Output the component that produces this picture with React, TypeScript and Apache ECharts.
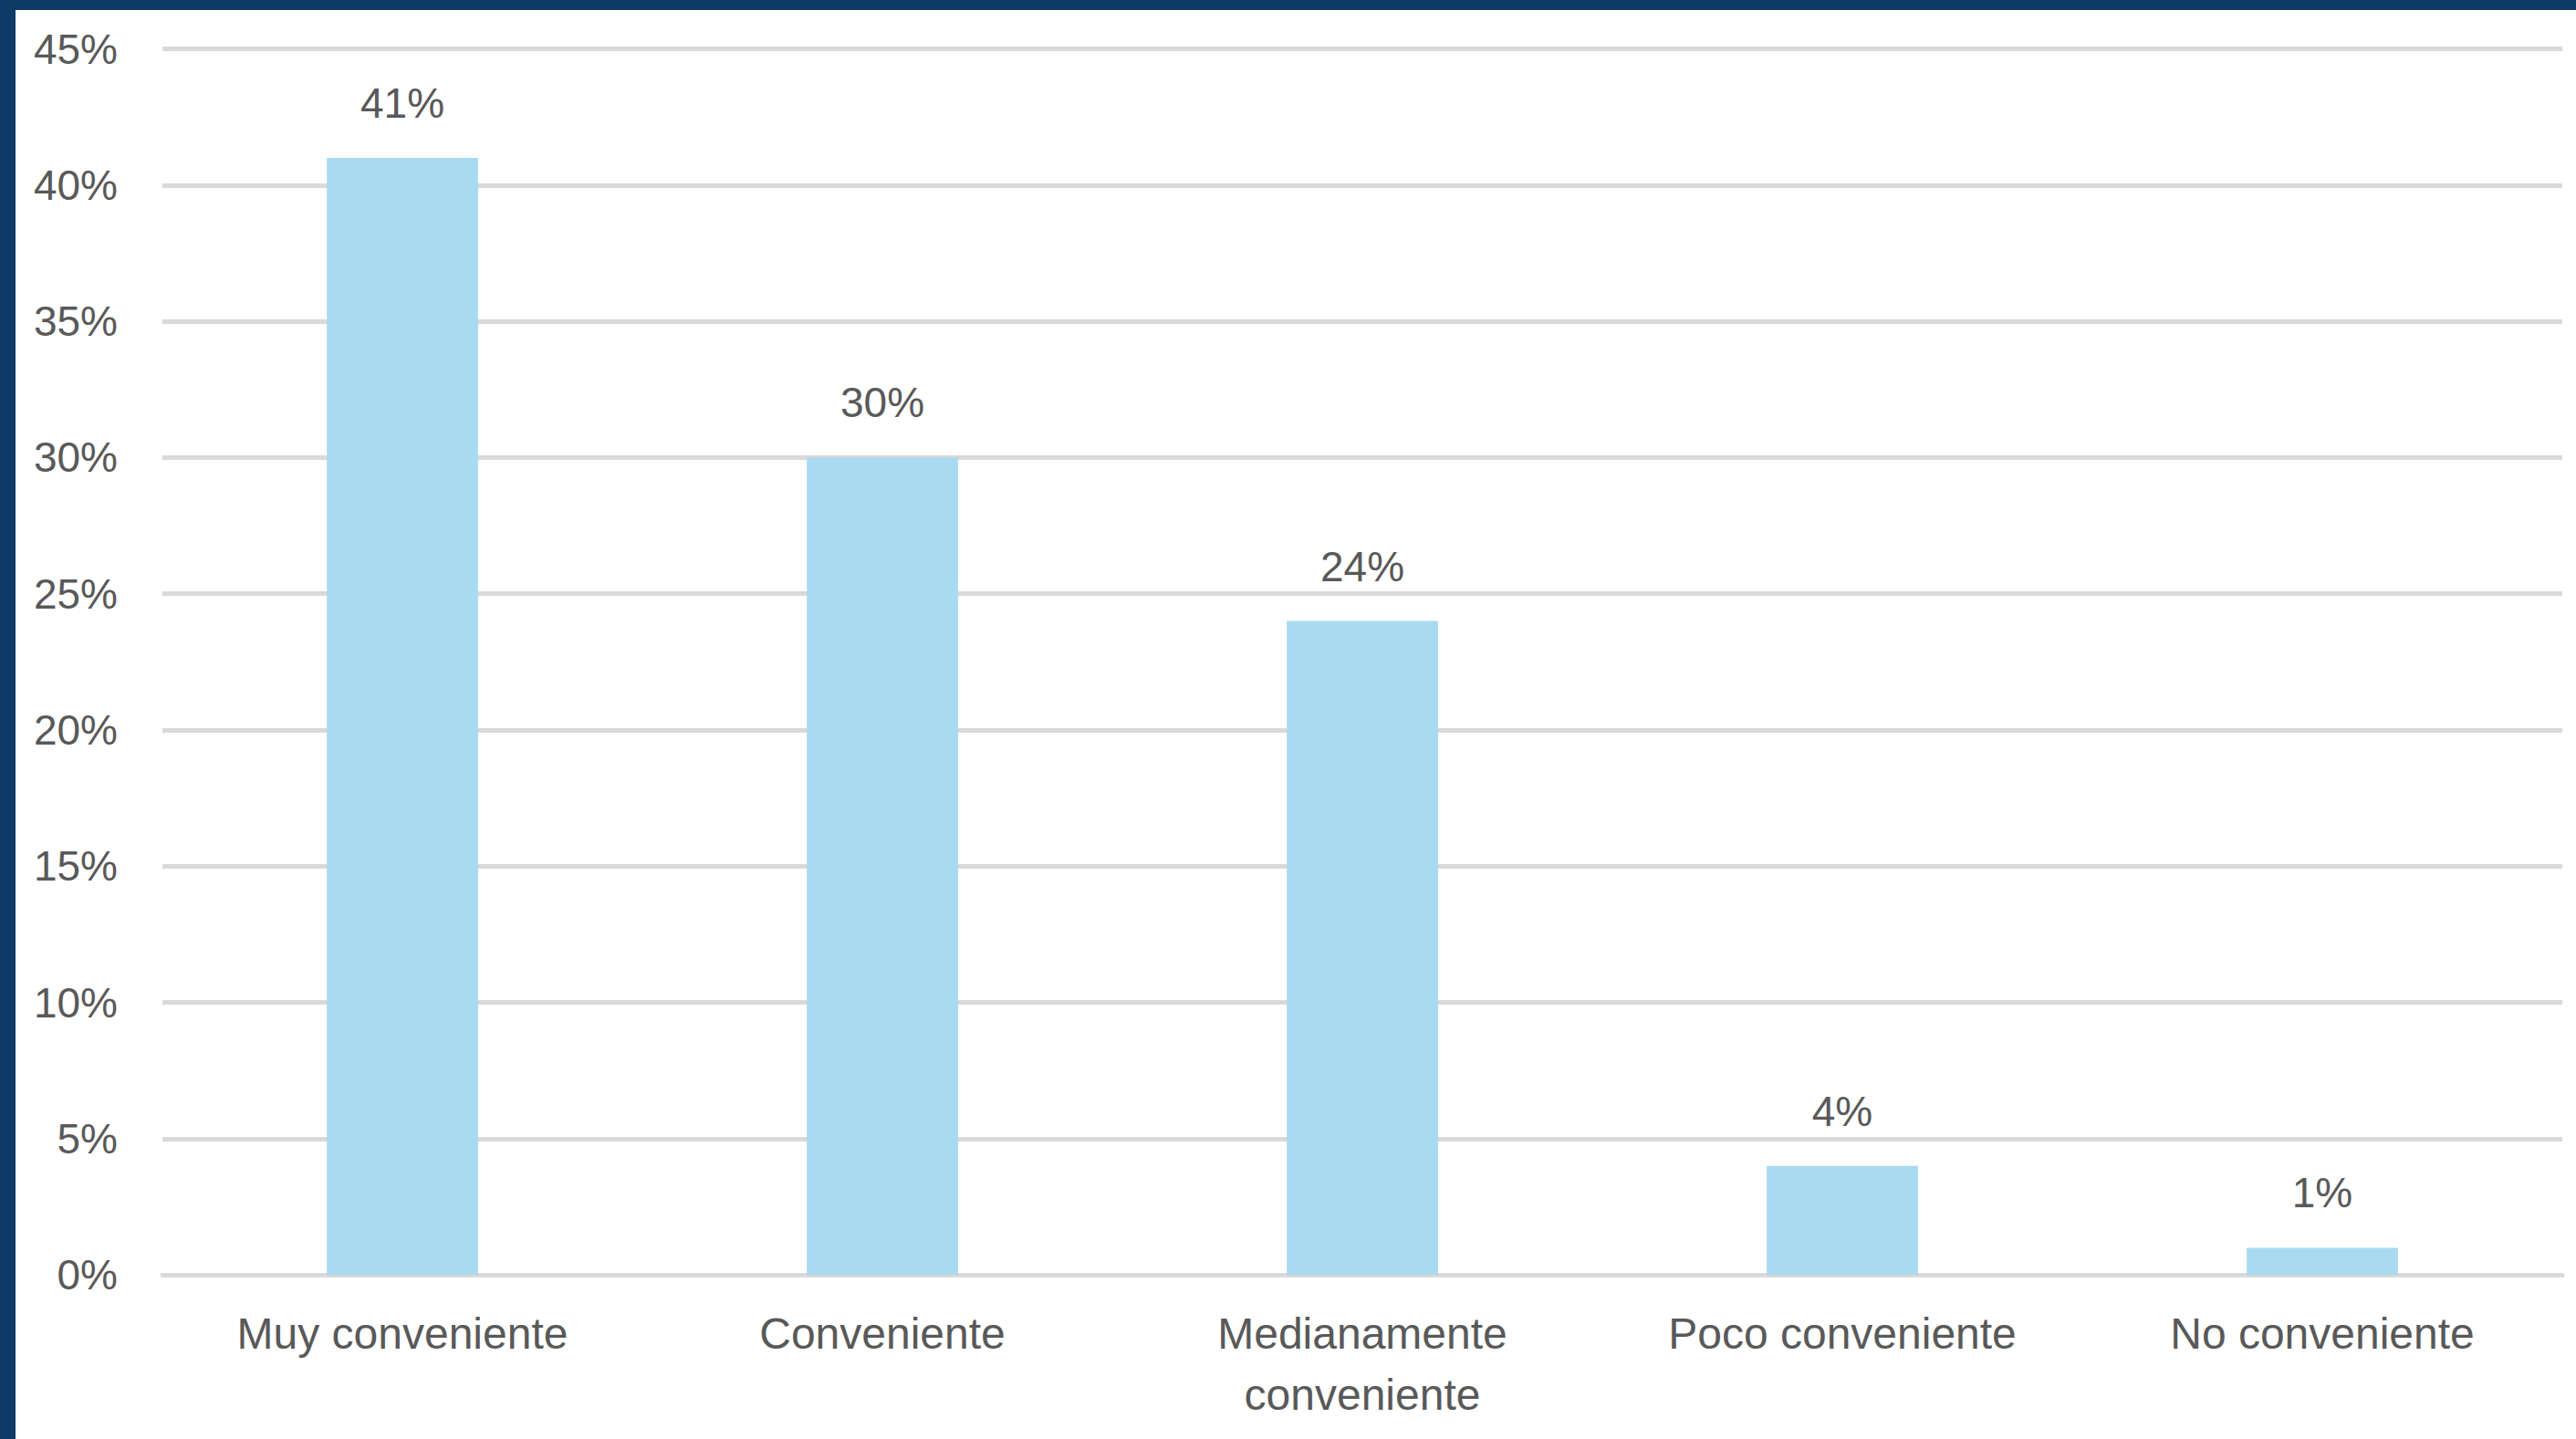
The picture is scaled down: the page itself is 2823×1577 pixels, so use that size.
import React, { useEffect, useRef } from "react";
import * as echarts from "echarts";

const categories = [
  "Muy conveniente",
  "Conveniente",
  "Medianamente conveniente",
  "Poco conveniente",
  "No conveniente",
];
const values = [41, 30, 24, 4, 1];
const yMin = 0;
const yMax = 45;
const yStep = 5;

const W = 2823;
const H = 1577;
const BORDER_TOP = 11;
const BORDER_LEFT = 17;
const FONT = "'Liberation Sans', Arial, sans-serif";
const TEXT = "#595959";

export default function App() {
  const ref = useRef<HTMLDivElement | null>(null);

  useEffect(() => {
    document.body.style.margin = "0";
    if (!ref.current) return;
    const chart = echarts.init(ref.current, undefined, { renderer: "svg" });
    chart.setOption({
      animation: false,
      backgroundColor: "#FFFFFF",
      grid: {
        left: 178 - BORDER_LEFT,
        right: 15,
        top: 53.5 - BORDER_TOP,
        bottom: H - 1397.3,
        containLabel: false,
      },
      xAxis: {
        type: "category",
        data: categories,
        axisLine: { show: true, lineStyle: { color: "#D9D9D9", width: 5 } },
        axisTick: { show: false },
        axisLabel: {
          interval: 0,
          color: TEXT,
          fontFamily: FONT,
          fontSize: 48,
          lineHeight: 67,
          margin: 31,
          formatter: (v: string) => (v.length > 18 ? v.replace(" ", "\n") : v),
        },
      },
      yAxis: {
        type: "value",
        min: yMin,
        max: yMax,
        interval: yStep,
        axisLine: { show: false },
        axisTick: { show: false },
        splitLine: { show: true, lineStyle: { color: "#D9D9D9", width: 5 } },
        axisLabel: {
          formatter: "{value}%",
          color: TEXT,
          fontFamily: FONT,
          fontSize: 46,
          margin: 49,
        },
      },
      series: [
        {
          type: "bar",
          data: values,
          barWidth: "31.5%",
          itemStyle: { color: "#A8DAF2" },
          label: {
            show: true,
            position: "top",
            distance: 36,
            formatter: "{c}%",
            color: TEXT,
            fontFamily: FONT,
            fontSize: 46,
            lineHeight: 48,
          },
        },
      ],
    });
    return () => chart.dispose();
  }, []);

  return (
    <div
      style={{
        position: "relative",
        width: W,
        height: H,
        background: "#0D3A66",
        overflow: "hidden",
      }}
    >
      <div
        ref={ref}
        style={{
          position: "absolute",
          left: BORDER_LEFT,
          top: BORDER_TOP,
          width: W - BORDER_LEFT,
          height: H - BORDER_TOP,
          background: "#FFFFFF",
        }}
      />
    </div>
  );
}
